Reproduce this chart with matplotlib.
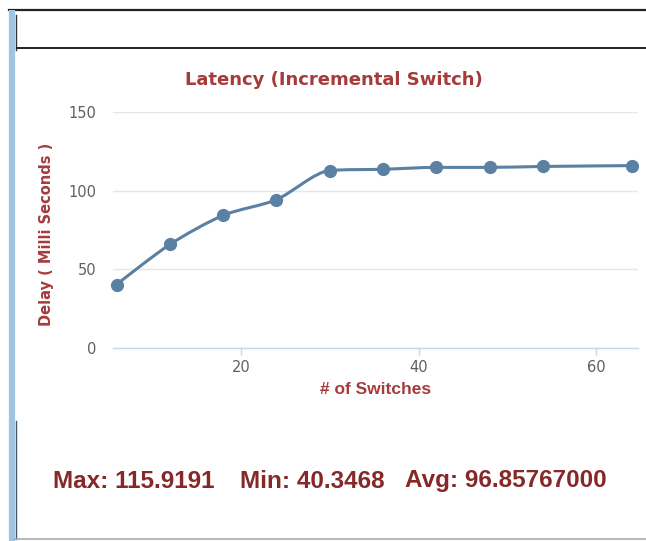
import matplotlib
matplotlib.use("Agg")
import matplotlib.pyplot as plt
from matplotlib.path import Path
from matplotlib.patches import PathPatch
import numpy as np

# ---- data ----
switches = [6, 12, 18, 24, 30, 36, 42, 48, 54, 64]
delay = [40.35, 65.8, 84.3, 94.3, 112.8, 113.6, 114.8, 114.8, 115.4, 115.92]
y_ticks = [0, 50, 100, 150]
x_ticks = [20, 40, 60]
title = "Latency (Incremental Switch)"
x_label = "# of Switches"
y_label = "Delay ( Milli Seconds )"
stats = ["Max: 115.9191", "Min: 40.3468", "Avg: 96.85767000"]

plt.rcParams["font.family"] = ["DejaVu Sans"]

W, H = 646, 541
fig = plt.figure(figsize=(W / 100, H / 100), dpi=100)
fig.patch.set_facecolor("white")

RED = "#a53c3c"
LINE = "#5a80a3"


def fx(px):
    return px / W


def fy(py):
    return 1 - py / H


# ---- window frame decorations ----
frame = fig.add_axes([0, 0, 1, 1], zorder=-1)
frame.set_xlim(0, W)
frame.set_ylim(H, 0)
frame.axis("off")
frame.plot([9, W], [9.5, 9.5], color="#222222", lw=1.6)
frame.plot([12, 12], [10, H], color="#a0c4e4", lw=4.5, solid_capstyle="butt")
frame.plot([15.5, 15.5], [15, 50], color="#333333", lw=1.0)
frame.plot([15.5, 15.5], [421, H - 2], color="#445566", lw=1.0)
frame.plot([17, W], [47.5, 47.5], color="#222222", lw=1.4)
frame.plot([15, W], [539, 539], color="#aaaaaa", lw=1.2)

# ---- chart axes ----
ax = fig.add_axes([fx(113), fy(348), fx(638) - fx(113), fy(112) - fy(348)])
ax.set_xlim(5.6, 64.7)
ax.set_ylim(0, 150)
ax.set_yticks(y_ticks)
ax.set_xticks(x_ticks)
for s in ["top", "right", "left"]:
    ax.spines[s].set_visible(False)
ax.spines["bottom"].set_color("#c8d6e6")
ax.spines["bottom"].set_linewidth(1.0)
ax.grid(axis="y", color="#dfe9e9", lw=1.0)
ax.set_axisbelow(True)
ax.tick_params(axis="y", length=0, pad=12, labelsize=10.5, labelcolor="#606060")
ax.tick_params(axis="x", length=5, width=1, color="#c8d6e6", pad=4,
               labelsize=10.5, labelcolor="#606060")

# smooth spline path (Highcharts-like) through the data points
xs = np.array(switches, float)
ys = np.array(delay, float)
n = len(xs)
sm = 2.5


def ctrl(i):
    """left / right control points around point i."""
    lx = (sm * xs[i] + xs[i - 1]) / (sm + 1)
    ly = (sm * ys[i] + ys[i - 1]) / (sm + 1)
    rx = (sm * xs[i] + xs[i + 1]) / (sm + 1)
    ry = (sm * ys[i] + ys[i + 1]) / (sm + 1)
    corr = 0.0
    if rx != lx:
        corr = ((ry - ly) * (rx - xs[i])) / (rx - lx) + ys[i] - ry
    ly += corr
    ry += corr
    lo, hi = min(ys[i - 1], ys[i]), max(ys[i - 1], ys[i])
    if ly > hi or ly < lo:
        ly = min(max(ly, lo), hi)
        ry = 2 * ys[i] - ly
    lo, hi = min(ys[i + 1], ys[i]), max(ys[i + 1], ys[i])
    if ry > hi or ry < lo:
        ry = min(max(ry, lo), hi)
        ly = 2 * ys[i] - ry
    return (lx, ly), (rx, ry)


ctrls = [None] + [ctrl(i) for i in range(1, n - 1)] + [None]
verts = [(xs[0], ys[0])]
codes = [Path.MOVETO]
for i in range(1, n):
    c1 = ctrls[i - 1][1] if ctrls[i - 1] else (xs[i - 1], ys[i - 1])
    c2 = ctrls[i][0] if ctrls[i] else (xs[i], ys[i])
    verts += [c1, c2, (xs[i], ys[i])]
    codes += [Path.CURVE4] * 3

ax.add_patch(PathPatch(Path(verts, codes), facecolor="none", edgecolor=LINE,
                       lw=2.2, zorder=3, clip_on=False))
ax.plot(switches, delay, linestyle="none", marker="o", markersize=8.5,
        color=LINE, zorder=4, clip_on=False)

# ---- texts ----
fig.text(fx(334), fy(80), title, ha="center", va="center", color=RED,
         fontsize=13, fontweight="bold", family=["DejaVu Sans"])
ax.set_xlabel(x_label, color=RED, fontsize=12.5, fontweight="bold",
              family=["Liberation Sans", "DejaVu Sans"], labelpad=5)
fig.text(fx(47), fy(234), y_label, ha="center", va="center", rotation=90,
         color=RED, fontsize=10.5, fontweight="bold", family=["DejaVu Sans"])
for s, px in zip(stats, [53, 240, 405]):
    fig.text(fx(px), fy(481), s, ha="left", va="center",
             color="#862828", fontsize=17.5, fontweight="bold",
             family=["Liberation Sans", "DejaVu Sans"])

fig.savefig("out.png", dpi=100, facecolor="white")
